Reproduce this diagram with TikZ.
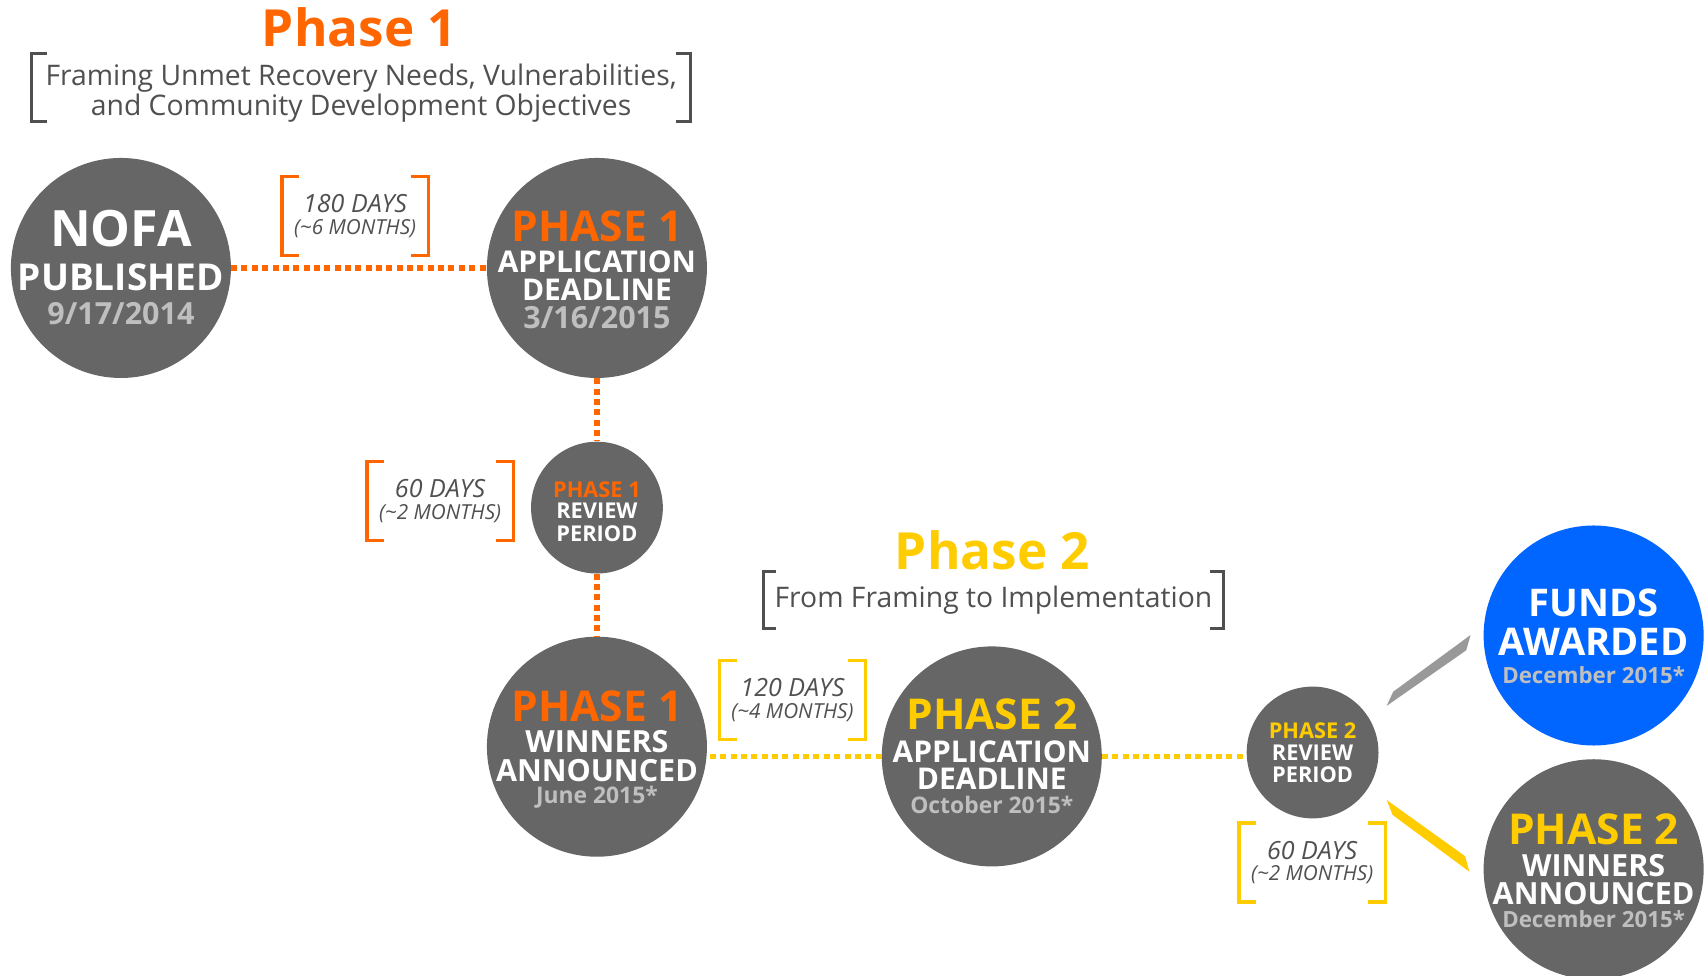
\documentclass[tikz,border=0pt]{standalone}
\usepackage{fontspec}
\setmainfont{Open Sans}
\usetikzlibrary{calc}
\definecolor{orng}{RGB}{255,102,0}
\definecolor{ylw}{RGB}{255,204,0}
\definecolor{discgray}{RGB}{102,102,102}
\definecolor{fundblue}{RGB}{0,102,255}
\definecolor{dategray}{RGB}{191,191,191}
\definecolor{txtgray}{RGB}{80,80,80}
\definecolor{bargray}{RGB}{153,153,153}

\begin{document}
\begin{tikzpicture}[x=1pt,y=1pt,yscale=-1,
  disc/.style={circle,fill=discgray,minimum size=202pt,inner sep=0pt},
  smalldisc/.style={disc,minimum size=121pt},
  caption/.style={anchor=north,inner sep=0pt,align=center,text=white,font=\bfseries\fontsize{20}{40}\selectfont},
  headline/.style={anchor=base,inner sep=0pt,font=\bfseries\fontsize{47}{50}\selectfont},
  subtext/.style={inner sep=0pt,align=center,text=txtgray,font=\fontsize{26}{27}\selectfont},
  dur/.style={minimum width=134pt,minimum height=72pt,inner sep=0pt,align=center,text=txtgray,font=\itshape\fontsize{23}{20}\selectfont},
  gbrk/.style={draw=txtgray,line width=2.8pt},
  obrk/.style={draw=orng,line width=3pt},
  ybrk/.style={draw=ylw,line width=3pt},
  odots/.style={draw=orng,line width=5pt,dash pattern=on 5.5pt off 4pt},
  ydots/.style={draw=ylw,line width=5pt,dash pattern=on 5.5pt off 4pt}]
\useasboundingbox[fill=white] (0,0) rectangle (1568,896);

% headings
\node[headline,text=orng] (ph1) at (330,43) {Phase 1};
\node (sub1) [minimum width=605pt,minimum height=62pt,inner sep=0pt] at (331.5,80) {};
\node[subtext] (sub1-t) at ($(sub1)+(0,5.5)$) {Framing Unmet Recovery Needs, Vulnerabilities,\\and Community Development Objectives};
\draw[gbrk] ([xshift=14pt]sub1.north west) -| (sub1.south west) -- ([xshift=14pt]sub1.south west);
\draw[gbrk] ([xshift=-14pt]sub1.north east) -| (sub1.south east) -- ([xshift=-14pt]sub1.south east);

\node[headline,text=ylw] (ph2) at (911,522.6) {Phase 2};
\node[subtext,minimum width=422pt,minimum height=52pt] (sub2) at (912,550.8) {From Framing to Implementation};
\draw[gbrk] ([xshift=12pt]sub2.north west) -| (sub2.south west) -- ([xshift=12pt]sub2.south west);
\draw[gbrk] ([xshift=-12pt]sub2.north east) -| (sub2.south east) -- ([xshift=-12pt]sub2.south east);

% circles
\node[disc] (nofa) at (111,246) {};
\node[disc] (p1app) at (548,246) {};
\node[smalldisc] (p1rev) at (548,466) {};
\node[disc] (p1win) at (548,685.5) {};
\node[disc] (p2app) at (910.5,694.4) {};
\node[smalldisc] (p2rev) at (1205,690.8) {};
\node[disc,fill=fundblue] (funds) at (1463,583.4) {};
\node[disc] (p2win) at (1463,798) {};

% circle texts
\node[caption] (nofa-t) at (111,193.1) {{\fontsize{46}{46}\selectfont NOFA}\\[-0.3pt]{\fontsize{34}{34}\selectfont PUBLISHED}\\[-8.4pt]{\fontsize{28}{28}\selectfont\color{dategray}9/17/2014}};
\node[caption] (p1app-t) at (548,193) {{\fontsize{39}{39}\selectfont\color{orng}PHASE 1}\\[-11.4pt]{\fontsize{27.5}{28}\selectfont APPLICATION}\\[-14.5pt]{\fontsize{27.5}{28}\selectfont DEADLINE}\\[-13.8pt]{\fontsize{28}{28}\selectfont\color{dategray}3/16/2015}};
\node[caption] (p1rev-t) at (548,441.7) {{\color{orng}PHASE 1}\\[-20pt]REVIEW\\[-19.3pt]PERIOD};
\node[caption] (p1win-t) at (548,633.7) {{\fontsize{39}{39}\selectfont\color{orng}PHASE 1}\\[-11.1pt]{\fontsize{28}{28}\selectfont WINNERS}\\[-13.9pt]{\fontsize{28}{28}\selectfont ANNOUNCED}\\[-19.5pt]{\fontsize{21}{21}\selectfont\color{dategray}June 2015*}};
\node[caption] (p2app-t) at (910.5,641.3) {{\fontsize{39}{39}\selectfont\color{ylw}PHASE 2}\\[-9.7pt]{\fontsize{27.5}{28}\selectfont APPLICATION}\\[-15.5pt]{\fontsize{27.5}{28}\selectfont DEADLINE}\\[-17.8pt]{\fontsize{21}{21}\selectfont\color{dategray}October 2015*}};
\node[caption] (p2rev-t) at (1205,663.7) {{\color{ylw}PHASE 2}\\[-20pt]REVIEW\\[-20pt]PERIOD};
\node[caption] (funds-t) at (1463,540.2) {{\fontsize{35}{35}\selectfont FUNDS}\\[-3.6pt]{\fontsize{35}{35}\selectfont AWARDED}\\[-15pt]{\fontsize{20.5}{21}\selectfont\color{dategray}December 2015*}};
\node[caption] (p2win-t) at (1463,746.7) {{\fontsize{39}{39}\selectfont\color{ylw}PHASE 2}\\[-10.9pt]{\fontsize{28}{28}\selectfont WINNERS}\\[-14pt]{\fontsize{28}{28}\selectfont ANNOUNCED}\\[-18.7pt]{\fontsize{20.5}{21}\selectfont\color{dategray}December 2015*}};

% dotted links
\draw[odots] (nofa) -- (p1app);
\draw[odots] (p1app) -- (p1rev);
\draw[odots] (p1rev) -- (p1win);
\draw[ydots] (p2app.west) -- (p2app.west -| p1win.east);
\draw[ydots] (p2app.east) -- (p2app.east -| p2rev.west);

% forks to the final results
\fill[bargray] ($(p2rev)+(68,-42.8)$) -- ($(p2rev)+(74,-55.8)$) -- ($(p2rev)+(145,-107.8)$) -- ($(p2rev)+(141,-93.8)$) -- cycle;
\fill[ylw] ($(p2rev)+(68,43.6)$) -- ($(p2rev)+(140,95.2)$) -- ($(p2rev)+(143.9,109.4)$) -- ($(p2rev)+(73.5,57.4)$) -- cycle;

% durations
\node[dur] (d180) at (326,198.5) {180 DAYS\\{\fontsize{19}{19}\selectfont(\textasciitilde 6 MONTHS)}};
\draw[obrk] ([xshift=16pt]d180.north west) -| (d180.south west) -- ([xshift=16pt]d180.south west);
\draw[obrk] ([xshift=-16pt]d180.north east) -| (d180.south east) -- ([xshift=-16pt]d180.south east);
\node[dur] (d60a) at (404,459.8) {60 DAYS\\{\fontsize{19}{19}\selectfont(\textasciitilde 2 MONTHS)}};
\draw[obrk] ([xshift=16pt]d60a.north west) -| (d60a.south west) -- ([xshift=16pt]d60a.south west);
\draw[obrk] ([xshift=-16pt]d60a.north east) -| (d60a.south east) -- ([xshift=-16pt]d60a.south east);
\node[dur] (d120) at (727.5,642.8) {120 DAYS\\{\fontsize{19}{19}\selectfont(\textasciitilde 4 MONTHS)}};
\draw[ybrk] ([xshift=16pt]d120.north west) -| (d120.south west) -- ([xshift=16pt]d120.south west);
\draw[ybrk] ([xshift=-16pt]d120.north east) -| (d120.south east) -- ([xshift=-16pt]d120.south east);
\node[dur] (d60b) at (1204.6,791.8) {60 DAYS\\{\fontsize{19}{19}\selectfont(\textasciitilde 2 MONTHS)}};
\draw[ybrk] ([xshift=16pt]d60b.north west) -| (d60b.south west) -- ([xshift=16pt]d60b.south west);
\draw[ybrk] ([xshift=-16pt]d60b.north east) -| (d60b.south east) -- ([xshift=-16pt]d60b.south east);
\end{tikzpicture}
\end{document}
